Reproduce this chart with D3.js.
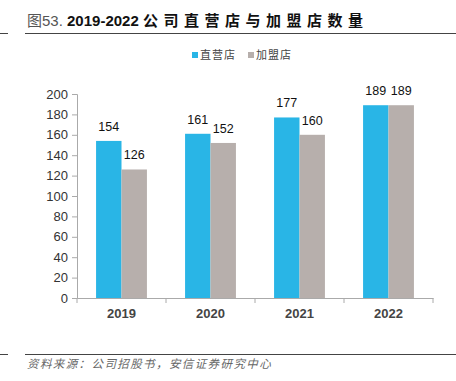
<!DOCTYPE html>
<html><head><meta charset="utf-8">
<script src="https://cdn.jsdelivr.net/npm/d3@7/dist/d3.min.js"></script>
<style>body{margin:0;background:#fff;}svg{display:block;}</style>
</head><body>
<svg id="c" width="456" height="381"></svg>
<script>
const categories = ["2019","2020","2021","2022"];
const seriesNames = ["直营店","加盟店"];
const direct = [154,161,177,189];
const franchise = [126,152,160,189];
const yTicks = [0,20,40,60,80,100,120,140,160,180,200];
const colors = ["#29B5E6","#B7AFAC"];
const font = "'Liberation Sans', Arial, 'Noto Sans CJK SC', sans-serif";

const svg = d3.select("#c");
const x = d3.scaleBand().domain(categories).range([77,433]);
const y = d3.scaleLinear().domain([0,200]).range([298,94]);
const inner = d3.scaleBand().domain(seriesNames).range([0, x.bandwidth()]).paddingInner(0).paddingOuter(0.75);

// title
const t = svg.append("text").attr("x",27).attr("y",26).attr("font-family",font).attr("font-size",15);
t.append("tspan").attr("fill","#555").attr("font-weight","normal").text("图53. ");
t.append("tspan").attr("fill","#111").attr("font-weight","bold").text("2019-2022 ");
t.append("tspan").attr("fill","#111").attr("font-weight","bold").attr("letter-spacing",5.5).text("公司直营店与加盟店数量");
svg.append("line").attr("x1",0).attr("x2",8).attr("y1",33.5).attr("y2",33.5).attr("stroke","#444").attr("stroke-width",1);
svg.append("line").attr("x1",25).attr("x2",456).attr("y1",33.5).attr("y2",33.5).attr("stroke","#444").attr("stroke-width",1);

// legend
const leg = [{n:seriesNames[0],c:colors[0],x:192},{n:seriesNames[1],c:colors[1],x:248}];
leg.forEach(l=>{
  svg.append("rect").attr("x",l.x).attr("y",52).attr("width",6).attr("height",6).attr("fill",l.c);
  svg.append("text").attr("x",l.x+8).attr("y",59).attr("font-family",font).attr("font-size",11).attr("letter-spacing",1).attr("fill","#444").text(l.n);
});

// y axis
const ya = svg.append("g").attr("transform","translate(77,0)").call(d3.axisLeft(y).tickValues(yTicks).tickSize(5).tickPadding(4));
ya.select(".domain").attr("stroke","#aaa");
ya.selectAll(".tick line").attr("stroke","#aaa");
ya.selectAll("text").attr("font-family",font).attr("font-size",13).attr("fill","#333");

// x axis
const xa = svg.append("g").attr("transform","translate(0,298)").call(d3.axisBottom(x).tickSize(0).tickPadding(11));
xa.select(".domain").attr("stroke","#aaa");
xa.selectAll("text").attr("font-family",font).attr("font-size",13).attr("font-weight","bold").attr("fill","#444");
const bounds = categories.map(c=>x(c)).concat([x(categories[categories.length-1])+x.bandwidth()]);
svg.selectAll(".bt").data(bounds).enter().append("line")
  .attr("x1",d=>d).attr("x2",d=>d).attr("y1",298).attr("y2",303).attr("stroke","#aaa");

// bars
const data = categories.map((c,i)=>({c, vals:[direct[i],franchise[i]]}));
const g = svg.append("g");
data.forEach(d=>{
  d.vals.forEach((v,j)=>{
    const bx = x(d.c)+inner(seriesNames[j]);
    g.append("rect").attr("x",bx).attr("y",y(v)).attr("width",inner.bandwidth()).attr("height",y(0)-y(v)).attr("fill",colors[j]);
    g.append("text").attr("x",bx+inner.bandwidth()/2).attr("y",y(v)-10).attr("text-anchor","middle")
      .attr("font-family",font).attr("font-size",12.5).attr("fill","#111").text(v);
  });
});

// footer
svg.append("line").attr("x1",0).attr("x2",8).attr("y1",354.5).attr("y2",354.5).attr("stroke","#444");
svg.append("line").attr("x1",25).attr("x2",456).attr("y1",354.5).attr("y2",354.5).attr("stroke","#444");
svg.append("text").attr("x",27).attr("y",368).attr("font-family",font).attr("font-size",11.5).attr("letter-spacing",1.4).attr("font-style","italic").attr("fill","#666").text("资料来源：公司招股书，安信证券研究中心");
</script>
</body></html>
